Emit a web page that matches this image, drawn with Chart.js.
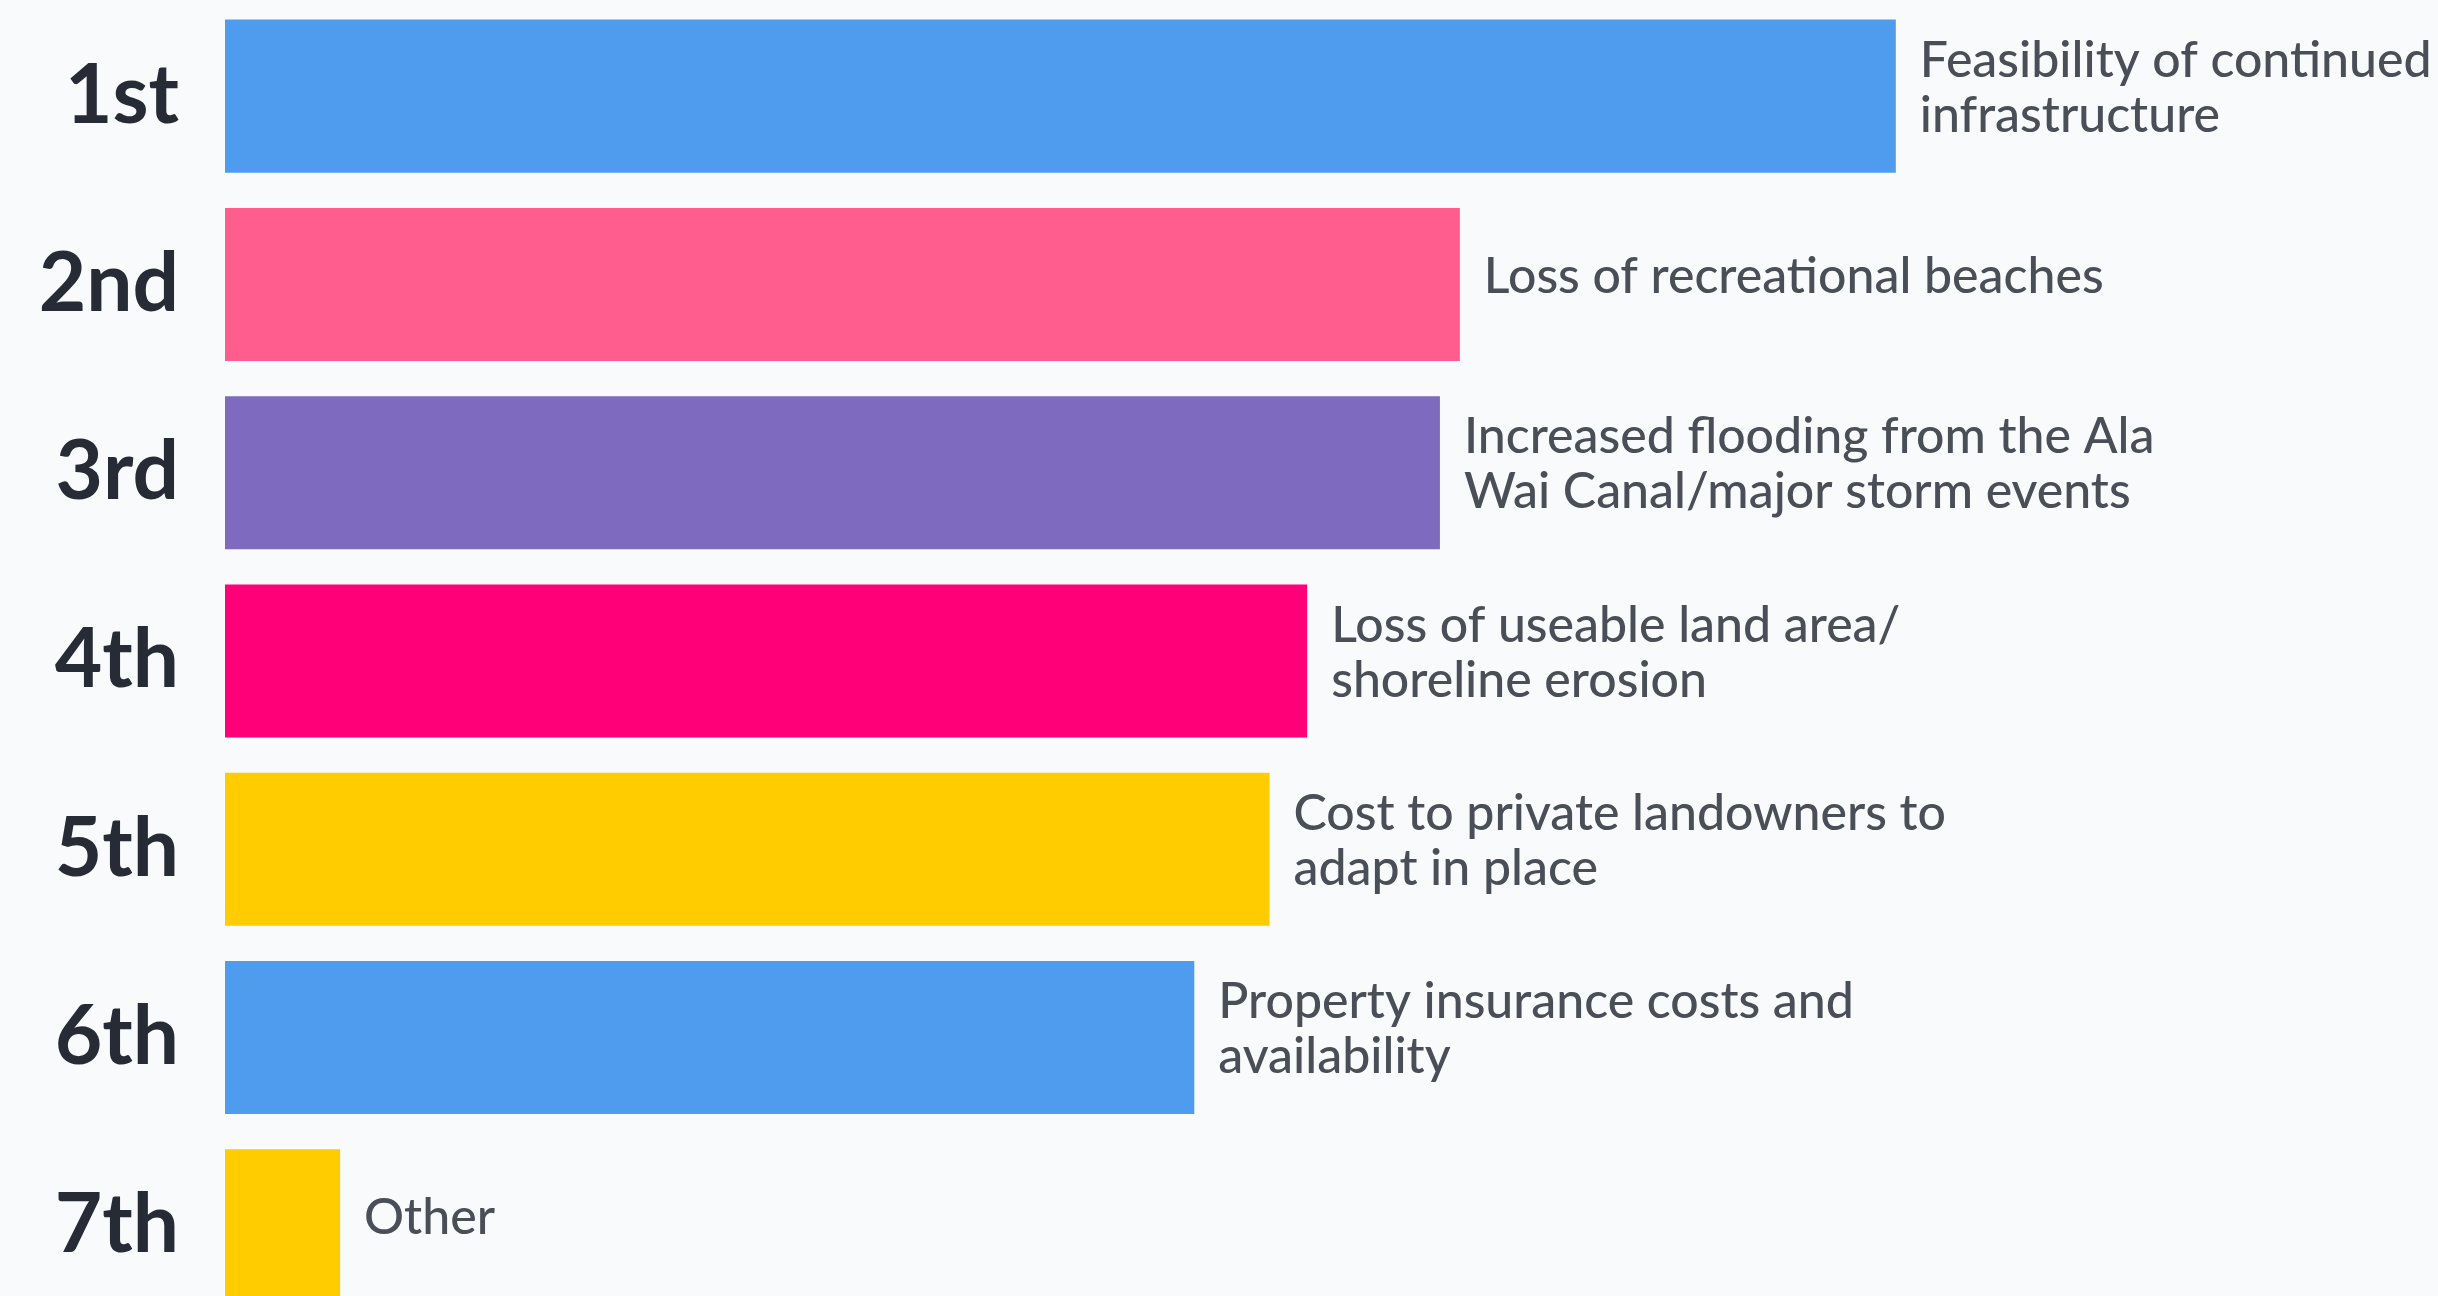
<!DOCTYPE html>
<html>
<head>
<meta charset="utf-8">
<title>Top concerns ranking</title>
<script src="https://cdn.jsdelivr.net/npm/chart.js@4/dist/chart.umd.min.js"></script>
<style>
    html, body {
        margin: 0;
        padding: 0;
        background: #f8fafb;
        overflow: hidden;
    }
    #wrap {
        position: absolute;
        left: 0;
        top: 0;
        width: 2438px;
        height: 1320px;
    }
</style>
</head>
<body>
<div id="wrap">
    <canvas id="rankChart" width="2438" height="1320"></canvas>
</div>
<script>
// Ranking labels on the left
const ranks = ["1st", "2nd", "3rd", "4th", "5th", "6th", "7th"];

// Concern shown beside each bar (one entry per line)
const concerns = [
    ["Feasibility of continued", "infrastructure"],
    ["Loss of recreational beaches"],
    ["Increased flooding from the Ala", "Wai Canal/major storm events"],
    ["Loss of useable land area/", "shoreline erosion"],
    ["Cost to private landowners to", "adapt in place"],
    ["Property insurance costs and", "availability"],
    ["Other"]
];

// Relative score of each concern
const scores = [75.5, 55.8, 54.9, 48.9, 47.2, 43.8, 5.2];

const barColors = ["#4f9bee", "#ff5d8d", "#7e6bbf", "#ff0078", "#ffcc00", "#4f9bee", "#ffcc00"];

// Writes the concern text to the right of every bar
const concernLabels = {
    id: "concernLabels",
    afterDatasetsDraw(chart) {
        const ctx = chart.ctx;
        const bars = chart.getDatasetMeta(0).data;
        const lineGap = 55;
        ctx.save();
        ctx.font = "500 50px Lato";
        ctx.fillStyle = "#4a4e57";
        ctx.textAlign = "left";
        ctx.textBaseline = "middle";
        bars.forEach((bar, i) => {
            const lines = concerns[i];
            const startY = bar.y - 8 - (lines.length - 1) * lineGap / 2;
            lines.forEach((line, j) => {
                ctx.fillText(line, bar.x + 24, startY + j * lineGap);
            });
        });
        ctx.restore();
    }
};

const chartCanvas = document.getElementById("rankChart");

const rankChart = new Chart(chartCanvas, {
    type: "bar",
    data: {
        labels: ranks,
        datasets: [{
            data: scores,
            backgroundColor: barColors,
            borderWidth: 0,
            categoryPercentage: 1,
            barPercentage: 0.813
        }]
    },
    options: {
        indexAxis: "y",
        responsive: false,
        animation: false,
        layout: {
            padding: { top: 2, right: 0, bottom: 0, left: 0 }
        },
        plugins: {
            legend: { display: false },
            tooltip: { enabled: false }
        },
        scales: {
            x: {
                display: false,
                min: 0,
                max: 100
            },
            y: {
                grid: { display: false, drawTicks: false },
                border: { display: false },
                ticks: {
                    color: "#262b35",
                    font: { family: "Lato", size: 82, weight: "bold" },
                    padding: 46
                },
                afterFit(scale) {
                    // fixed axis width, and no extra room above/below for the big labels
                    scale.width = 225;
                    scale.paddingTop = 0;
                    scale.paddingBottom = 0;
                }
            }
        }
    },
    plugins: [concernLabels]
});
</script>
</body>
</html>
